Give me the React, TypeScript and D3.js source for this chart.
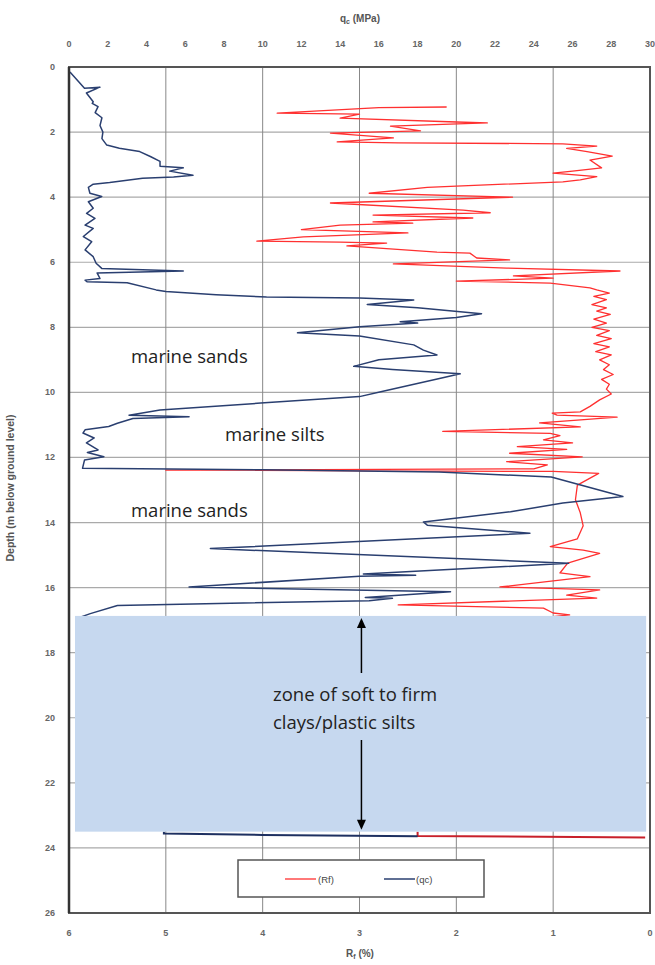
import React from "react";
import * as d3 from "d3";

// depth (m), q_c (MPa)
const qcUpper: [number, number][] = [
  [0.15, 0.05], [0.45, 0.5], [0.65, 0.8], [0.62, 1.6], [0.8, 0.9], [1.07, 1.25], [1.12, 1.2],
  [1.22, 1.5], [1.4, 1.35], [1.56, 1.7], [1.8, 1.6], [2.0, 1.75], [2.2, 1.7], [2.4, 1.95],
  [2.5, 2.6], [2.6, 3.65], [2.75, 4.2], [2.9, 4.7], [3.05, 4.7], [3.1, 5.9], [3.2, 5.2],
  [3.33, 6.4], [3.38, 5.4], [3.42, 3.8], [3.55, 2.1], [3.6, 1.25], [3.7, 1.0], [3.88, 1.08],
  [3.98, 1.69], [4.14, 1.0], [4.34, 1.25], [4.5, 0.91], [4.65, 1.34], [4.86, 0.83], [4.96, 1.25],
  [5.21, 0.74], [5.37, 1.17], [5.62, 0.83], [5.83, 1.25], [6.03, 1.4], [6.19, 1.69], [6.27, 5.9],
  [6.33, 1.45], [6.5, 1.6], [6.55, 0.83], [6.6, 0.93], [6.63, 3.0], [6.85, 4.5], [6.9, 5.0],
  [7.0, 7.6], [7.07, 10.2], [7.1, 15.0], [7.16, 17.8], [7.3, 15.4], [7.4, 18.0], [7.58, 21.3],
  [7.7, 20.0], [7.83, 17.1], [7.87, 18.0], [7.98, 15.0], [8.17, 11.8], [8.27, 15.0], [8.54, 17.8],
  [8.7, 18.3], [8.85, 19.0], [9.0, 16.0], [9.2, 14.7], [9.3, 16.7], [9.43, 20.2], [9.55, 19.3],
  [9.98, 16.1], [10.13, 15.0], [10.33, 9.9], [10.54, 4.7], [10.7, 3.1], [10.75, 6.2], [10.8, 3.3],
  [10.95, 2.5], [11.05, 2.05], [11.15, 0.83], [11.25, 0.72], [11.4, 1.3], [11.55, 0.9],
  [11.77, 1.5], [11.85, 0.95], [11.98, 1.8], [12.08, 0.8], [12.33, 0.7], [12.38, 10.0],
  [12.45, 19.1], [12.6, 24.9], [13.2, 28.6], [13.4, 25.5], [13.67, 22.8], [13.98, 18.3],
  [14.08, 18.5], [14.33, 23.8], [14.8, 7.3], [15.25, 25.8], [15.58, 15.2], [15.62, 17.9],
  [15.65, 15.0], [15.98, 6.2], [16.13, 19.7], [16.3, 15.3], [16.33, 16.7], [16.4, 15.5],
  [16.55, 2.5], [16.8, 1.1], [16.95, 0.4],
];
const qcLower: [number, number][] = [[23.5, 4.9], [23.56, 4.9], [23.6, 10.0], [23.64, 18.0]];

// depth (m), R_f (%)
const rfUpper: [number, number][] = [
  [1.23, 2.1], [1.25, 2.8], [1.42, 3.85], [1.45, 3.0], [1.57, 3.2], [1.69, 2.0], [1.72, 1.68],
  [1.82, 2.68], [1.96, 2.37], [2.03, 3.3], [2.18, 2.65], [2.3, 3.23], [2.33, 2.6], [2.36, 0.9],
  [2.43, 0.55], [2.5, 0.86], [2.6, 0.65], [2.74, 0.39], [2.86, 0.62], [3.1, 0.5], [3.2, 0.8],
  [3.26, 1.0], [3.37, 0.55], [3.47, 0.72], [3.53, 0.9], [3.66, 2.0], [3.7, 2.3], [3.88, 2.9],
  [4.0, 1.42], [4.18, 3.3], [4.4, 1.93], [4.48, 1.65], [4.55, 2.86], [4.64, 1.83], [4.76, 2.86],
  [4.8, 2.45], [4.86, 3.2], [5.0, 3.6], [5.1, 2.5], [5.22, 3.58], [5.35, 4.06], [5.38, 3.2],
  [5.41, 2.72], [5.5, 3.13], [5.69, 2.2], [5.72, 1.86], [5.87, 1.79], [5.93, 1.45], [6.05, 2.65],
  [6.18, 1.48], [6.27, 0.31], [6.42, 1.41], [6.49, 1.0], [6.58, 2.0], [6.64, 1.03], [6.79, 0.62],
  [6.85, 0.55], [6.95, 0.42], [7.05, 0.58], [7.15, 0.45], [7.3, 0.6], [7.4, 0.45], [7.5, 0.55],
  [7.6, 0.41], [7.75, 0.58], [7.87, 0.45], [8.0, 0.6], [8.1, 0.42], [8.25, 0.55], [8.35, 0.4],
  [8.5, 0.58], [8.6, 0.42], [8.75, 0.56], [8.85, 0.4], [9.0, 0.52], [9.15, 0.42], [9.3, 0.48],
  [9.45, 0.38], [9.6, 0.5], [9.75, 0.42], [9.9, 0.45], [10.05, 0.4], [10.23, 0.52], [10.43, 0.62],
  [10.6, 0.72], [10.64, 1.01], [10.7, 0.96], [10.76, 0.34], [10.85, 0.75], [10.94, 1.14],
  [11.06, 0.72], [11.2, 2.14], [11.26, 1.03], [11.33, 0.93], [11.46, 1.1], [11.55, 0.8],
  [11.67, 1.37], [11.75, 0.86], [11.87, 1.45], [11.98, 0.7], [12.13, 1.48], [12.23, 1.06],
  [12.35, 1.2], [12.39, 5.0], [12.43, 1.0], [12.49, 0.53], [12.85, 0.75], [13.3, 0.77],
  [13.7, 0.72], [14.1, 0.69], [14.5, 0.75], [14.74, 1.03], [14.85, 0.69], [14.95, 0.52],
  [15.25, 0.85], [15.55, 0.93], [15.66, 0.62], [15.98, 1.55], [16.07, 0.52], [16.23, 0.86],
  [16.32, 0.55], [16.53, 2.6], [16.63, 1.1], [16.78, 1.0], [16.84, 0.83], [16.95, 1.2],
];
const rfLower: [number, number][] = [[23.5, 2.4], [23.63, 2.4], [23.68, 0.05]];

const depthTicks = [0, 2, 4, 6, 8, 10, 12, 14, 16, 18, 20, 22, 24, 26];
const qcTicks = [0, 2, 4, 6, 8, 10, 12, 14, 16, 18, 20, 22, 24, 26, 28, 30];
const rfTicks = [6, 5, 4, 3, 2, 1, 0];
const qcGrid = [5, 10, 15, 20, 25];

const layerLabels = [
  { text: "marine sands", depth: 9.1, qc: 3.2 },
  { text: "marine silts", depth: 11.5, qc: 8.05 },
  { text: "marine sands", depth: 13.83, qc: 3.2 },
];
const zoneTop = 16.87;
const zoneBottom = 23.5;
const zoneLines = ["zone of soft to firm", "clays/plastic silts"];

const W = 655, H = 965;
const L = 69, R = 650, T = 67, B = 913;

export default function App() {
  const y = d3.scaleLinear().domain([0, 26]).range([T, B]);
  const xq = d3.scaleLinear().domain([0, 30]).range([L, R]);
  const xr = d3.scaleLinear().domain([6, 0]).range([L, R]);

  const qcLine = d3.line<[number, number]>().x((d) => xq(d[1])).y((d) => y(d[0]));
  const rfLine = d3.line<[number, number]>().x((d) => xr(d[1])).y((d) => y(d[0]));

  const tickFont = { fontFamily: "'Liberation Sans', Arial, sans-serif", fontSize: 9, fontWeight: 700, fill: "#666" };
  const titleFont = { fontFamily: "'Liberation Sans', Arial, sans-serif", fontSize: 10, fontWeight: 700, fill: "#555" };
  const annFont = { fontFamily: "'Open Sans', 'Noto Sans', sans-serif", fontSize: 18.5, fill: "#222" };
  const legFont = { fontFamily: "'Liberation Sans', Arial, sans-serif", fontSize: 9.5, fill: "#444" };

  const zx0 = xq(0.31), zx1 = xq(29.8);
  const zy0 = y(zoneTop), zy1 = y(zoneBottom);
  const ax = xq(15.1);
  const legendX = 238, legendY = 860, legendW = 246, legendH = 37;

  return (
    <svg width={W} height={H} style={{ position: "absolute", left: 0, top: 0, background: "#fff" }}>
      {/* grid */}
      {depthTicks.slice(1, -1).map((d) => (
        <line key={"h" + d} x1={L} x2={R} y1={y(d)} y2={y(d)} stroke="#aaa" strokeWidth={1.2} />
      ))}
      {qcGrid.map((q) => (
        <line key={"v" + q} x1={xq(q)} x2={xq(q)} y1={T} y2={B} stroke="#888" strokeWidth={1} />
      ))}

      {/* data */}
      <path d={rfLine(rfUpper) || ""} fill="none" stroke="#ff3030" strokeWidth={1.3} strokeLinejoin="round" />
      <path d={rfLine(rfLower) || ""} fill="none" stroke="#c8202a" strokeWidth={2} />
      <path d={qcLine(qcUpper) || ""} fill="none" stroke="#2a3f70" strokeWidth={1.5} strokeLinejoin="round" />
      <path d={qcLine(qcLower) || ""} fill="none" stroke="#1e3060" strokeWidth={2} />

      {/* frame */}
      <rect x={L} y={T} width={R - L} height={B - T} fill="none" stroke="#555" strokeWidth={2} />
      <line x1={L} x2={L} y1={T} y2={B} stroke="#333" strokeWidth={2.5} />

      {/* zone */}
      <rect x={zx0} y={zy0} width={zx1 - zx0} height={zy1 - zy0} fill="#c6d8ef" />
      <line x1={ax} x2={ax} y1={673} y2={zy0 + 10} stroke="#000" strokeWidth={1.5} />
      <path d={`M${ax - 4.5},${zy0 + 12} L${ax},${zy0 + 2} L${ax + 4.5},${zy0 + 12} Z`} fill="#000" />
      <line x1={ax} x2={ax} y1={740} y2={zy1 - 10} stroke="#000" strokeWidth={1.5} />
      <path d={`M${ax - 4.5},${zy1 - 12} L${ax},${zy1 - 2} L${ax + 4.5},${zy1 - 12} Z`} fill="#000" />
      {zoneLines.map((t, i) => (
        <text key={t} x={273} y={701 + i * 28} style={annFont}>{t}</text>
      ))}

      {layerLabels.map((l, i) => (
        <text key={i} x={xq(l.qc)} y={y(l.depth)} style={annFont}>{l.text}</text>
      ))}

      {/* axes labels */}
      {depthTicks.map((d) => (
        <text key={"yl" + d} x={55} y={y(d) + 3} textAnchor="end" style={tickFont}>{d}</text>
      ))}
      {qcTicks.map((q) => (
        <text key={"ql" + q} x={xq(q)} y={47} textAnchor="middle" style={tickFont}>{q}</text>
      ))}
      {rfTicks.map((r) => (
        <text key={"rl" + r} x={xr(r)} y={936} textAnchor="middle" style={tickFont}>{r}</text>
      ))}
      <text x={360} y={22} textAnchor="middle" style={titleFont}>
        q<tspan fontSize={7} dy={2}>c</tspan><tspan dy={-2}> (MPa)</tspan>
      </text>
      <text x={360} y={957} textAnchor="middle" style={titleFont}>
        R<tspan fontSize={7} dy={2}>f</tspan><tspan dy={-2}> (%)</tspan>
      </text>
      <text transform={`translate(14,488) rotate(-90)`} textAnchor="middle" style={{ ...titleFont, fontSize: 10.5 }}>
        Depth (m below ground level)
      </text>

      {/* legend */}
      <rect x={legendX} y={legendY} width={legendW} height={legendH} fill="#fff" stroke="#555" strokeWidth={1.5} />
      <line x1={285} x2={316} y1={879} y2={879} stroke="#ff3030" strokeWidth={1.3} />
      <text x={318} y={882.5} style={legFont}>(Rf)</text>
      <line x1={384} x2={415} y1={879} y2={879} stroke="#2a3f70" strokeWidth={1.5} />
      <text x={416} y={882.5} style={legFont}>(qc)</text>
    </svg>
  );
}
